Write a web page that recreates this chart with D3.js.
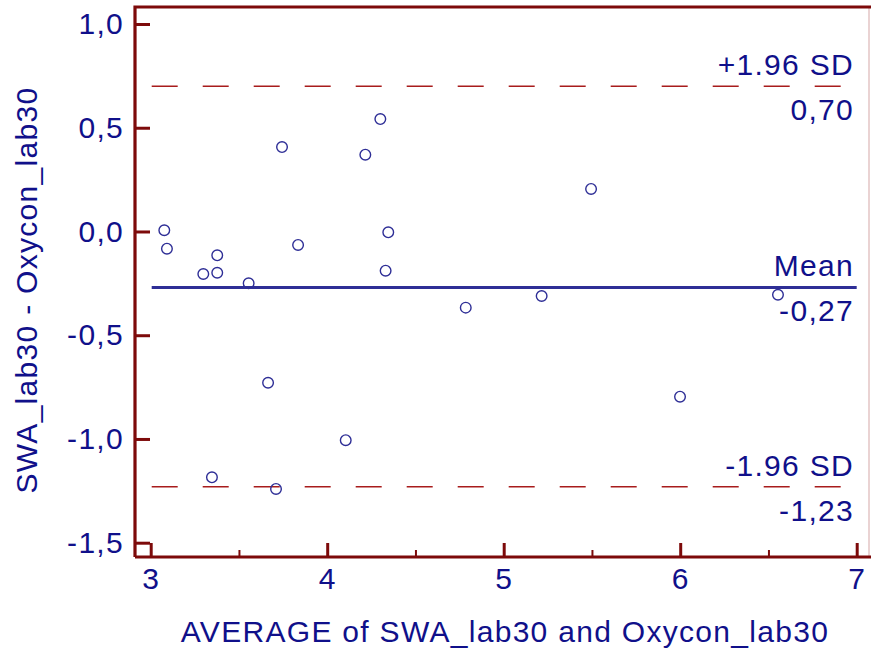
<!DOCTYPE html>
<html>
<head>
<meta charset="utf-8">
<script src="https://cdn.jsdelivr.net/npm/d3@7"></script>
<style>
  body { margin: 0; background: #fff; }
  svg text { font-family: "Liberation Sans", Arial, sans-serif; font-size: 30px; fill: #10108a; letter-spacing: 1.3px; }
</style>
</head>
<body>
<svg id="chart" width="871" height="658"></svg>
<script>
// averages (x) and differences (y) of SWA_lab30 vs Oxycon_lab30
const averages = [3.077, 3.092, 3.377, 3.298, 3.377, 3.555, 3.835, 4.346, 4.331, 4.301, 3.744,
  4.216, 3.665, 4.105, 3.347, 3.710, 5.495, 4.785, 5.215, 6.554, 5.999]
const differences = [0.006, -0.083, -0.115, -0.205, -0.199, -0.250, -0.065, -0.004, -0.189, 0.542, 0.407,
  0.370, -0.729, -1.006, -1.185, -1.241, 0.205, -0.367, -0.311, -0.305, -0.796]

// reference lines: mean and limits of agreement
const refNames = ['+1.96 SD', 'Mean', '-1.96 SD']
const refValues = [0.70, -0.27, -1.23]
const refLabels = ['0,70', '-0,27', '-1,23']

const xTicks = [3, 4, 5, 6, 7]
const xMinorTicks = [3.5, 4.5, 5.5, 6.5]
const yTicks = [1.0, 0.5, 0.0, -0.5, -1.0, -1.5]

const axisColor = '#7d0a0a'
const navy = '#2e2e96'

const svg = d3.select('#chart')

const x = d3.scaleLinear().domain([3, 7]).range([150.7, 856.7])
const y = d3.scaleLinear().domain([-1.5, 1.0]).range([542.7, 24])

const frame = {left: 135, top: 7, bottom: 557, right: 869}
const fmt = v => d3.format('.1f')(v).replace('.', ',').replace('−', '-')

// right border (thin, light)
svg.append('line')
  .attr('x1', frame.right).attr('x2', frame.right)
  .attr('y1', frame.top).attr('y2', frame.bottom)
  .attr('stroke', '#e3c4c4').attr('stroke-width', 1.5)

// y axis
const yAxis = svg.append('g')
  .attr('transform', `translate(${frame.left},0)`)
  .call(d3.axisLeft(y).tickValues(yTicks).tickFormat(fmt)
    .tickSizeInner(-15).tickSizeOuter(0).tickPadding(11))
yAxis.select('.domain').remove()
yAxis.selectAll('.tick line').attr('stroke', axisColor).attr('stroke-width', 3)

// x axis, major then minor ticks
const xAxis = svg.append('g')
  .attr('transform', `translate(0,${frame.bottom})`)
  .call(d3.axisBottom(x).tickValues(xTicks).tickFormat(d3.format('d'))
    .tickSizeInner(-14).tickSizeOuter(0).tickPadding(11))
xAxis.select('.domain').remove()
xAxis.selectAll('.tick line').attr('stroke', axisColor).attr('stroke-width', 3)

const xMinor = svg.append('g')
  .attr('transform', `translate(0,${frame.bottom})`)
  .call(d3.axisBottom(x).tickValues(xMinorTicks).tickFormat('')
    .tickSizeInner(-7).tickSizeOuter(0))
xMinor.select('.domain').remove()
xMinor.selectAll('.tick line').attr('stroke', axisColor).attr('stroke-width', 2)

svg.selectAll('.tick text').attr('fill', '#10108a')

// frame lines: left, top, bottom
svg.append('path')
  .attr('d', `M${frame.left},${frame.bottom}V${frame.top}H871M${frame.left},${frame.bottom}H871`)
  .attr('fill', 'none')
  .attr('stroke', axisColor)
  .attr('stroke-width', 3.2)

// limits of agreement (dashed) and mean (solid)
svg.selectAll('line.ref')
  .data(refValues)
  .enter().append('line')
  .attr('class', 'ref')
  .attr('x1', x(3) + 1).attr('x2', x(7))
  .attr('y1', d => y(d)).attr('y2', d => y(d))
  .attr('stroke', (d, i) => i === 1 ? navy : '#a81c1c')
  .attr('stroke-width', (d, i) => i === 1 ? 3 : 1.4)
  .attr('stroke-dasharray', (d, i) => i === 1 ? null : '26,25')

svg.selectAll('text.refName')
  .data(refNames)
  .enter().append('text')
  .attr('class', 'refName')
  .attr('text-anchor', 'end')
  .attr('x', 854)
  .attr('y', (d, i) => y(refValues[i]) - 11)
  .text(d => d)

svg.selectAll('text.refLabel')
  .data(refLabels)
  .enter().append('text')
  .attr('class', 'refLabel')
  .attr('text-anchor', 'end')
  .attr('x', 854)
  .attr('y', (d, i) => y(refValues[i]) + 34)
  .text(d => d)

// points
svg.append('g')
  .selectAll('circle')
  .data(averages)
  .enter().append('circle')
  .attr('cx', d => x(d))
  .attr('cy', (d, i) => y(differences[i]))
  .attr('r', 5.3)
  .attr('fill', 'none')
  .attr('stroke', navy)
  .attr('stroke-width', 1.4)

// axis titles
svg.append('text')
  .attr('text-anchor', 'middle')
  .attr('x', 505)
  .attr('y', 642)
  .text('AVERAGE of SWA_lab30 and Oxycon_lab30')

svg.append('text')
  .attr('text-anchor', 'middle')
  .attr('transform', 'translate(37,290) rotate(-90)')
  .text('SWA_lab30 - Oxycon_lab30')
</script>
</body>
</html>
